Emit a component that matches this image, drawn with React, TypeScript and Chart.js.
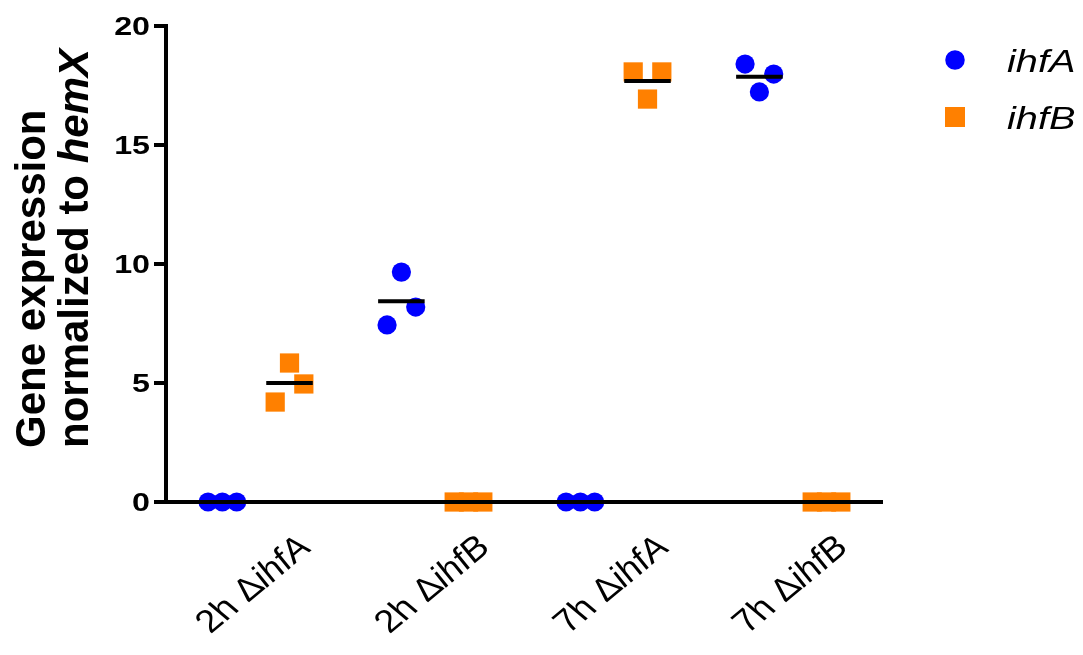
import React, { useEffect, useRef } from 'react';
import { Chart, registerables } from 'chart.js';

Chart.register(...registerables);

// ---- data ----
const categories = ['2h ΔihfA', '2h ΔihfB', '7h ΔihfA', '7h ΔihfB'];
const seriesNames = ['ihfA', 'ihfB'];
const ihfAValues = [
  [0, 0, 0],
  [7.44, 9.66, 8.19],
  [0, 0, 0],
  [18.4, 17.23, 17.98],
];
const ihfBValues = [
  [4.2, 5.84, 4.96],
  [0, 0, 0],
  [18.07, 16.93, 18.07],
  [0, 0, 0],
];
const yTicks = [0, 5, 10, 15, 20];
const yTitleLine1 = 'Gene expression';
const yTitleLine2 = 'normalized to ';
const yTitleItalic = 'hemX';

// ---- layout / style constants ----
const groupOffset = [-0.185, 0.19];
const replicateOffset = [-0.08, 0, 0.08];
const meanHalfWidth = 0.13;
const seriesColors = ['#0000FF', '#FF8000'];
const FONT = "'Liberation Sans', Arial, sans-serif";

const allValues = [ihfAValues, ihfBValues];

type Part = { text: string; font: string };

function drawParts(
  ctx: CanvasRenderingContext2D,
  parts: Part[],
  x: number,
  y: number,
  sx: number,
  rot: number,
  align: 'left' | 'center' | 'right',
  dy: number
) {
  ctx.save();
  ctx.translate(x, y);
  ctx.scale(sx, 1);
  ctx.rotate(rot);
  ctx.textBaseline = 'alphabetic';
  ctx.textAlign = 'left';
  ctx.fillStyle = '#000';
  let total = 0;
  const widths = parts.map((p) => {
    ctx.font = p.font;
    const w = ctx.measureText(p.text).width;
    total += w;
    return w;
  });
  let cur = align === 'center' ? -total / 2 : align === 'right' ? -total : 0;
  parts.forEach((p, i) => {
    ctx.font = p.font;
    ctx.fillText(p.text, cur, dy);
    cur += widths[i];
  });
  ctx.restore();
}

const meanLinesPlugin = {
  id: 'meanLines',
  afterDatasetsDraw(chart: any) {
    const { ctx } = chart;
    const xs = chart.scales.x;
    const ys = chart.scales.y;
    ctx.save();
    ctx.strokeStyle = '#000';
    ctx.lineWidth = 4;
    allValues.forEach((vals, s) => {
      vals.forEach((reps, ci) => {
        const mean = reps.reduce((a, b) => a + b, 0) / reps.length;
        const c = ci + 1 + groupOffset[s];
        const y = ys.getPixelForValue(mean);
        ctx.beginPath();
        ctx.moveTo(xs.getPixelForValue(c - meanHalfWidth), y);
        ctx.lineTo(xs.getPixelForValue(c + meanHalfWidth), y);
        ctx.stroke();
      });
    });
    ctx.restore();
  },
};

const textPlugin = {
  id: 'texts',
  afterDraw(chart: any) {
    const { ctx } = chart;
    const xs = chart.scales.x;
    const ys = chart.scales.y;
    // y tick labels
    ys.ticks.forEach((t: any) => {
      const y = ys.getPixelForValue(t.value);
      drawParts(ctx, [{ text: String(t.value), font: `bold 25px ${FONT}` }], 150, y, 1.29, 0, 'right', 9);
    });
    // x category labels
    categories.forEach((cat, i) => {
      const idx = cat.indexOf('Δ');
      const pre = cat.slice(0, idx + 1);
      const gene = cat.slice(idx + 1);
      const cx = xs.getPixelForValue(i + 1) - 3;
      drawParts(
        ctx,
        [
          { text: pre, font: `32px ${FONT}` },
          { text: gene, font: `italic 32px ${FONT}` },
        ],
        cx,
        584,
        1.2,
        -Math.PI / 4,
        'center',
        11
      );
    });
    // y title
    drawParts(ctx, [{ text: yTitleLine1, font: `bold 42px ${FONT}` }], 45, 448, 1, -Math.PI / 2, 'left', 0);
    drawParts(
      ctx,
      [
        { text: yTitleLine2, font: `bold 42px ${FONT}` },
        { text: yTitleItalic, font: `italic bold 42px ${FONT}` },
      ],
      88,
      448,
      1,
      -Math.PI / 2,
      'left',
      0
    );
    // legend
    const legendY = [60, 117];
    seriesNames.forEach((name, s) => {
      ctx.save();
      ctx.fillStyle = seriesColors[s];
      if (s === 0) {
        ctx.beginPath();
        ctx.arc(955, legendY[s], 9.75, 0, Math.PI * 2);
        ctx.fill();
      } else {
        ctx.fillRect(945, legendY[s] - 10, 20, 20);
      }
      ctx.restore();
      drawParts(ctx, [{ text: name, font: `italic 31px ${FONT}` }], 1007, legendY[s] + 12, 1.28, 0, 'left', 0);
    });
  },
};

export default function App() {
  const ref = useRef<HTMLCanvasElement | null>(null);
  useEffect(() => {
    document.body.style.margin = '0';
    if (!ref.current) return;
    const datasets = allValues.map((vals, s) => ({
      label: seriesNames[s],
      data: vals.flatMap((reps, ci) =>
        reps.map((v, ri) => ({ x: ci + 1 + groupOffset[s] + replicateOffset[ri], y: v }))
      ),
      pointStyle: s === 0 ? 'circle' : 'rect',
      pointRadius: s === 0 ? 9.6 : 13.6,
      pointHoverRadius: s === 0 ? 9.6 : 13.6,
      backgroundColor: seriesColors[s],
      borderColor: seriesColors[s],
      borderWidth: 0,
      clip: false as any,
    }));
    const chart = new Chart(ref.current, {
      type: 'scatter',
      data: { datasets },
      options: {
        responsive: false,
        animation: false,
        events: [],
        layout: { padding: { left: 154, right: 201, top: 26, bottom: 153 } },
        plugins: { legend: { display: false }, tooltip: { enabled: false } },
        scales: {
          x: {
            type: 'linear',
            min: 0.5,
            max: 4.5,
            grid: { display: false, drawTicks: false },
            ticks: { display: false },
            border: { display: true, color: '#000', width: 4, z: 1 },
          },
          y: {
            min: yTicks[0],
            max: yTicks[yTicks.length - 1],
            ticks: { display: false, stepSize: yTicks[1] - yTicks[0] },
            grid: { drawOnChartArea: false, drawTicks: true, tickLength: 12, color: '#000', lineWidth: 4 },
            border: { color: '#000', width: 4 },
          },
        },
      } as any,
      plugins: [meanLinesPlugin, textPlugin],
    });
    return () => chart.destroy();
  }, []);
  return (
    <div style={{ width: 1083, height: 655, background: '#fff' }}>
      <canvas ref={ref} width={1083} height={655} style={{ display: 'block' }} />
    </div>
  );
}
